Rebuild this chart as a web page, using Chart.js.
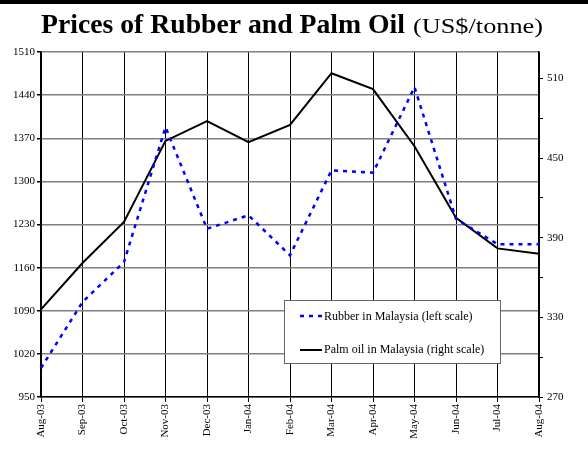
<!DOCTYPE html>
<html>
<head>
<meta charset="utf-8">
<script src="https://cdn.jsdelivr.net/npm/chart.js@4"></script>
<style>
  html, body { margin: 0; padding: 0; background: #fff; }
  #wrap { width: 588px; height: 450px; }
</style>
</head>
<body>
<div id="wrap"><canvas id="chart" width="588" height="450"></canvas></div>
<script>
// months on the x axis
const months = ['Aug-03', 'Sep-03', 'Oct-03', 'Nov-03', 'Dec-03', 'Jan-04', 'Feb-04',
                'Mar-04', 'Apr-04', 'May-04', 'Jun-04', 'Jul-04', 'Aug-04'];
// rubber, left scale (US$/tonne)
const rubber = [997, 1104, 1169, 1388, 1223, 1245, 1180, 1318, 1314, 1453, 1239, 1198, 1198];
// palm oil, right scale (US$/tonne)
const palmOil = [336, 371, 402, 463, 478, 462, 475, 514, 502, 459, 405, 382, 378];

const titleBold = 'Prices of Rubber and Palm Oil';
const titleRest = '(US$/tonne)';
const legendLabels = ['Rubber in Malaysia (left scale)', 'Palm oil in Malaysia (right scale)'];

const serif = '"Liberation Serif", "Times New Roman", serif';

// draw text squeezed/stretched to a given width
function fitText(ctx, text, x, y, width) {
    const w = ctx.measureText(text).width;
    ctx.save();
    ctx.translate(x, y);
    ctx.scale(width / w, 1);
    ctx.fillText(text, 0, 0);
    ctx.restore();
}

const titlePlugin = {
    id: 'titleBar',
    afterDraw(chart) {
        const ctx = chart.ctx;
        ctx.save();
        ctx.fillStyle = '#000';
        ctx.fillRect(0, 0, chart.width, 4);
        ctx.textBaseline = 'alphabetic';
        ctx.font = 'bold 27px ' + serif;
        fitText(ctx, titleBold, 41, 33, 364);
        ctx.font = '22px ' + serif;
        fitText(ctx, titleRest, 413, 33, 130);
        ctx.restore();
    }
};

const legendPlugin = {
    id: 'boxLegend',
    afterDraw(chart) {
        const ctx = chart.ctx;
        ctx.save();
        const bx = 284, by = 300, bw = 216, bh = 63;
        ctx.fillStyle = '#fff';
        ctx.fillRect(bx, by, bw, bh);
        ctx.strokeStyle = '#666';
        ctx.lineWidth = 1;
        ctx.strokeRect(bx + 0.5, by + 0.5, bw, bh);

        ctx.lineWidth = 2.5;
        ctx.strokeStyle = '#0000ff';
        ctx.setLineDash([4, 5]);
        ctx.beginPath();
        ctx.moveTo(300, 316);
        ctx.lineTo(324, 316);
        ctx.stroke();

        ctx.setLineDash([]);
        ctx.lineWidth = 2;
        ctx.strokeStyle = '#000';
        ctx.beginPath();
        ctx.moveTo(300, 350);
        ctx.lineTo(322, 350);
        ctx.stroke();

        ctx.fillStyle = '#000';
        ctx.font = '12px ' + serif;
        ctx.textBaseline = 'middle';
        ctx.fillText(legendLabels[0], 324, 317);
        ctx.fillText(legendLabels[1], 324, 350);
        ctx.restore();
    }
};

new Chart(document.getElementById('chart'), {
    type: 'line',
    data: {
        labels: months,
        datasets: [
            {
                label: legendLabels[0],
                data: rubber,
                yAxisID: 'yLeft',
                borderColor: '#0000ff',
                borderWidth: 2.5,
                borderDash: [4, 5],
                pointRadius: 0,
                tension: 0,
                fill: false
            },
            {
                label: legendLabels[1],
                data: palmOil,
                yAxisID: 'yRight',
                borderColor: '#000',
                borderWidth: 2,
                pointRadius: 0,
                tension: 0,
                fill: false
            }
        ]
    },
    options: {
        responsive: false,
        animation: false,
        layout: { padding: { top: 52, left: 0, right: 0, bottom: 0 } },
        plugins: {
            legend: { display: false },
            tooltip: { enabled: false }
        },
        scales: {
            x: {
                offset: false,
                grid: { color: '#000', lineWidth: 1, tickLength: 5, tickColor: '#000' },
                border: { color: '#000', width: 1.5 },
                ticks: {
                    minRotation: 90, maxRotation: 90, autoSkip: false,
                    color: '#000', padding: 2,
                    font: { family: serif, size: 11 }
                },
                afterFit(scale) { scale.height = 53; }
            },
            yLeft: {
                position: 'left',
                min: 950, max: 1510,
                grid: {
                    color: '#808080', lineWidth: 1.5,
                    tickLength: 4, tickColor: '#000'
                },
                border: { color: '#000', width: 1.5 },
                ticks: {
                    stepSize: 70, color: '#000', padding: 2,
                    font: { family: serif, size: 11 },
                    callback: (v) => String(v)
                },
                afterFit(scale) { scale.width = 41; }
            },
            yRight: {
                position: 'right',
                min: 270, max: 530,
                grid: {
                    drawOnChartArea: false,
                    tickLength: 4, tickColor: '#000'
                },
                border: { color: '#000', width: 1.5 },
                ticks: {
                    stepSize: 30, color: '#000', padding: 4,
                    font: { family: serif, size: 11 },
                    callback: (v) => ((v - 270) % 60 === 0 ? String(v) : '')
                },
                afterBuildTicks(scale) {
                    scale.ticks = scale.ticks.filter(t => (t.value - 270) % 30 === 0);
                },
                afterFit(scale) { scale.width = 49; }
            }
        }
    },
    plugins: [titlePlugin, legendPlugin]
});
</script>
</body>
</html>
